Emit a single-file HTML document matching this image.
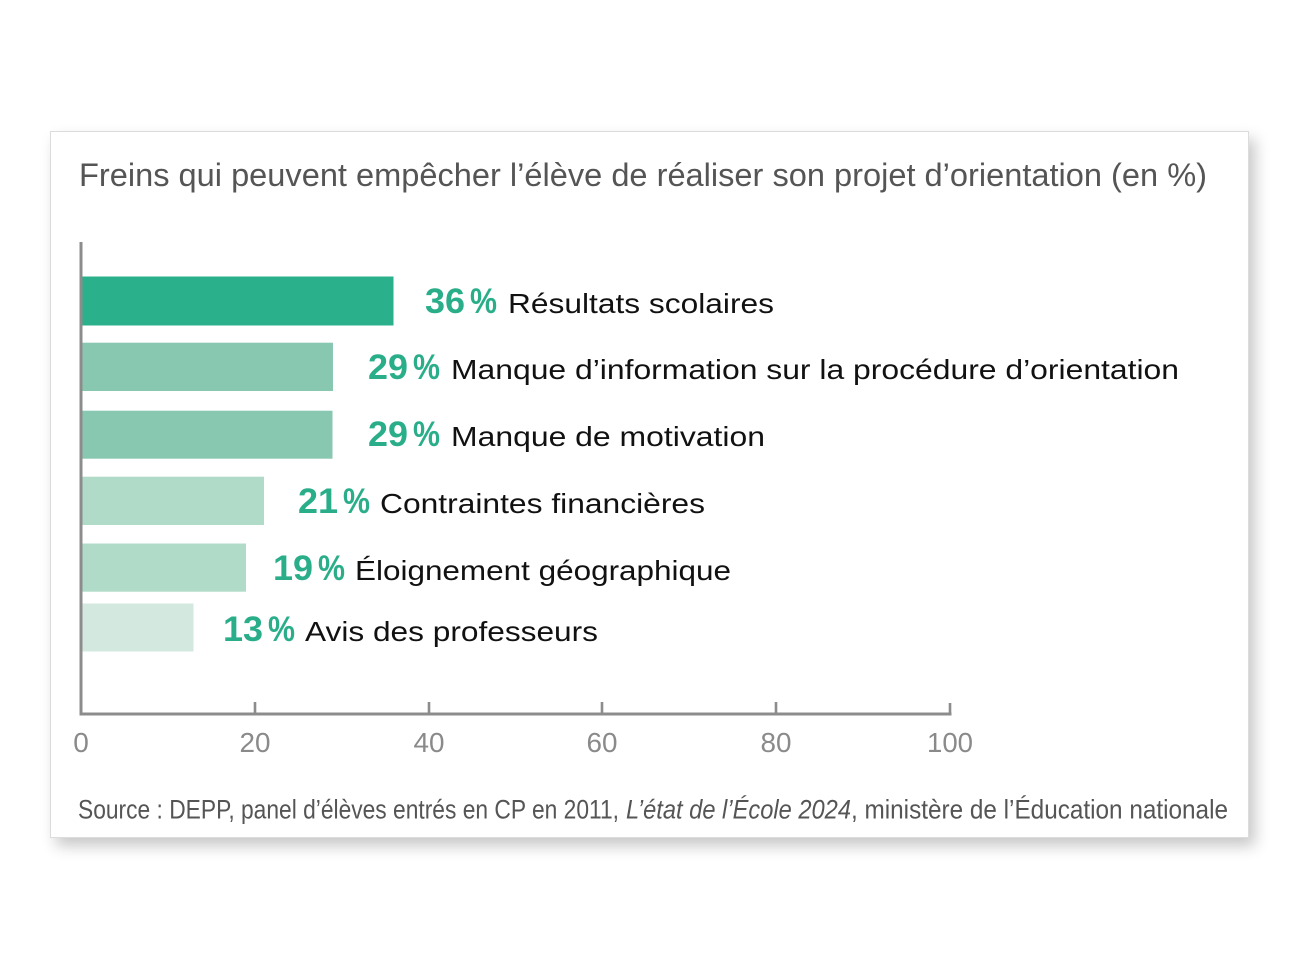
<!DOCTYPE html>
<html><head><meta charset="utf-8"><style>
html,body{margin:0;padding:0;background:#fff;width:1300px;height:971px;overflow:hidden}
.card{position:absolute;left:50px;top:131px;width:1197px;height:705px;border:1px solid #dcdcdc;background:#fff;box-shadow:6px 8px 14px rgba(0,0,0,0.22)}
svg{position:absolute;left:0;top:0}
</style></head><body>
<div class="card"></div>
<svg width="1300" height="971" viewBox="0 0 1300 971" xmlns="http://www.w3.org/2000/svg" font-family="Liberation Sans, Arial, sans-serif">
<text x="79" y="186" font-size="32" fill="#555" textLength="1128" lengthAdjust="spacingAndGlyphs">Freins qui peuvent empêcher l’élève de réaliser son projet d’orientation (en %)</text>
<g>
<rect x="82.5" y="276.5" width="311" height="49" fill="#2bb08c"/>
<rect x="82.5" y="342.7" width="250.5" height="48.3" fill="#89c8b0"/>
<rect x="82.5" y="410.7" width="250" height="48" fill="#89c8b0"/>
<rect x="82.5" y="476.7" width="181.5" height="48.3" fill="#b0dbc9"/>
<rect x="82.5" y="543.5" width="163.5" height="48.2" fill="#b0dbc9"/>
<rect x="82.5" y="603.5" width="111" height="48" fill="#d3e9df"/>
</g>
<g stroke="#8c8c8c" stroke-width="3" fill="none">
<line x1="81" y1="242" x2="81" y2="715"/>
<line x1="79.5" y1="714" x2="951.5" y2="714"/>
<line x1="255" y1="702" x2="255" y2="714" stroke-width="2.6"/>
<line x1="429" y1="702" x2="429" y2="714" stroke-width="2.6"/>
<line x1="602" y1="702" x2="602" y2="714" stroke-width="2.6"/>
<line x1="776" y1="702" x2="776" y2="714" stroke-width="2.6"/>
<line x1="950" y1="703" x2="950" y2="714" stroke-width="2.6"/>
</g>
<g font-size="28" fill="#8a8a8a" text-anchor="middle">
<text x="81" y="752">0</text>
<text x="255" y="752" textLength="31" lengthAdjust="spacingAndGlyphs">20</text>
<text x="429" y="752" textLength="31" lengthAdjust="spacingAndGlyphs">40</text>
<text x="602" y="752" textLength="31" lengthAdjust="spacingAndGlyphs">60</text>
<text x="776" y="752" textLength="31" lengthAdjust="spacingAndGlyphs">80</text>
<text x="950" y="752" textLength="46" lengthAdjust="spacingAndGlyphs">100</text>
</g>
<g font-size="35" font-weight="bold" fill="#2aae8a">
<text x="425" y="313" textLength="40" lengthAdjust="spacingAndGlyphs">36</text>
<text x="470" y="313" textLength="27" lengthAdjust="spacingAndGlyphs">%</text>
<text x="368" y="379" textLength="40" lengthAdjust="spacingAndGlyphs">29</text>
<text x="413" y="379" textLength="27" lengthAdjust="spacingAndGlyphs">%</text>
<text x="368" y="446" textLength="40" lengthAdjust="spacingAndGlyphs">29</text>
<text x="413" y="446" textLength="27" lengthAdjust="spacingAndGlyphs">%</text>
<text x="298" y="513" textLength="40" lengthAdjust="spacingAndGlyphs">21</text>
<text x="343" y="513" textLength="27" lengthAdjust="spacingAndGlyphs">%</text>
<text x="273" y="580" textLength="40" lengthAdjust="spacingAndGlyphs">19</text>
<text x="318" y="580" textLength="27" lengthAdjust="spacingAndGlyphs">%</text>
<text x="223" y="641" textLength="40" lengthAdjust="spacingAndGlyphs">13</text>
<text x="268" y="641" textLength="27" lengthAdjust="spacingAndGlyphs">%</text>
</g>
<g font-size="28" fill="#111">
<text x="508" y="313" textLength="266" lengthAdjust="spacingAndGlyphs">Résultats scolaires</text>
<text x="451" y="379" textLength="728" lengthAdjust="spacingAndGlyphs">Manque d’information sur la procédure d’orientation</text>
<text x="451" y="446" textLength="314" lengthAdjust="spacingAndGlyphs">Manque de motivation</text>
<text x="380" y="513" textLength="325" lengthAdjust="spacingAndGlyphs">Contraintes financières</text>
<text x="355" y="580" textLength="376" lengthAdjust="spacingAndGlyphs">Éloignement géographique</text>
<text x="305" y="641" textLength="293" lengthAdjust="spacingAndGlyphs">Avis des professeurs</text>
</g>
<g font-size="26.5" fill="#555">
<text x="78" y="818.5" textLength="541" lengthAdjust="spacingAndGlyphs">Source : DEPP, panel d’élèves entrés en CP en 2011,</text>
<text x="626" y="818.5" font-style="italic" textLength="225" lengthAdjust="spacingAndGlyphs">L’état de l’École 2024</text>
<text x="851" y="818.5" textLength="377" lengthAdjust="spacingAndGlyphs">, ministère de l’Éducation nationale</text>
</g>
</svg>
</body></html>
